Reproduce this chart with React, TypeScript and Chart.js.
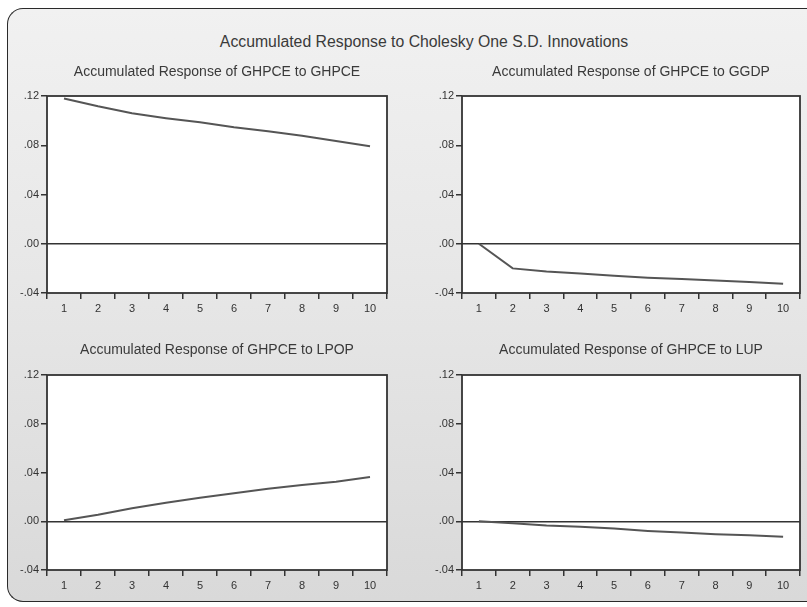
import React, { useEffect, useRef } from "react";
import { Chart, registerables } from "chart.js";

Chart.register(...registerables);

const mainTitle = "Accumulated Response to Cholesky One S.D. Innovations";
const categories = ["1", "2", "3", "4", "5", "6", "7", "8", "9", "10"];
const yTicks = [-0.04, 0.0, 0.04, 0.08, 0.12];

const resGHPCE = [0.118, 0.1116, 0.106, 0.102, 0.0986, 0.0946, 0.0913, 0.0878, 0.0835, 0.0792];
const resGGDP = [0.0, -0.02, -0.0225, -0.0241, -0.026, -0.0276, -0.0287, -0.0298, -0.031, -0.0325];
const resLPOP = [0.0008, 0.0053, 0.0107, 0.0152, 0.0192, 0.0229, 0.0267, 0.0298, 0.0325, 0.0363];
const resLUP = [0.0, -0.0016, -0.0035, -0.0046, -0.006, -0.0079, -0.0092, -0.0106, -0.0114, -0.0127];

const panelTitles = [
  "Accumulated Response of GHPCE to GHPCE",
  "Accumulated Response of GHPCE to GGDP",
  "Accumulated Response of GHPCE to LPOP",
  "Accumulated Response of GHPCE to LUP",
];

const FONT = "'Liberation Sans', Arial, sans-serif";
const INK = "#333333";

const framePlugin = {
  id: "plotFrame",
  beforeDraw(chart: any) {
    const { ctx, chartArea: a } = chart;
    ctx.save();
    ctx.fillStyle = "#ffffff";
    ctx.fillRect(a.left, a.top, a.right - a.left, a.bottom - a.top);
    ctx.restore();
  },
  afterDraw(chart: any) {
    const { ctx, chartArea: a } = chart;
    ctx.save();
    ctx.strokeStyle = "#333333";
    ctx.lineWidth = 1.8;
    ctx.strokeRect(a.left, a.top, a.right - a.left, a.bottom - a.top);
    ctx.restore();
  },
};

function fmt(v: number) {
  const s = Math.abs(v).toFixed(2).replace(/^0/, "");
  return v < -1e-9 ? "-" + s : s;
}

type PanelProps = {
  data: number[];
  title: string;
  left: number;
  top: number;
  width: number;
  height: number;
  titleBottomPad: number;
};

function Panel({ data, title, left, top, width, height, titleBottomPad }: PanelProps) {
  const ref = useRef<HTMLCanvasElement | null>(null);
  useEffect(() => {
    if (!ref.current) return;
    const chart = new Chart(ref.current, {
      type: "line",
      data: {
        labels: categories,
        datasets: [
          {
            data,
            borderColor: "#555555",
            borderWidth: 2,
            pointRadius: 0,
            tension: 0,
            fill: false,
          },
        ],
      },
      options: {
        responsive: false,
        animation: false,
        layout: { padding: { left: 0, right: 6, top: 0, bottom: 0 } },
        plugins: {
          legend: { display: false },
          tooltip: { enabled: false },
          title: {
            display: true,
            text: title,
            fullSize: false,
            color: "#3a3a3a",
            font: { family: FONT, size: 14, weight: "normal", lineHeight: 1.2 },
            padding: { top: 4, bottom: titleBottomPad },
          },
        },
        scales: {
          x: {
            type: "category",
            offset: true,
            grid: {
              offset: true,
              drawOnChartArea: false,
              drawTicks: true,
              tickLength: 6,
              color: INK,
              lineWidth: 1.5,
            },
            border: { display: false },
            ticks: {
              color: INK,
              font: { family: FONT, size: 11 },
              padding: 3,
              maxRotation: 0,
              autoSkip: false,
            },
            afterFit: (scale: any) => {
              scale.height = 26;
            },
          },
          y: {
            type: "linear",
            min: yTicks[0],
            max: yTicks[yTicks.length - 1],
            afterBuildTicks: (scale: any) => {
              scale.ticks = yTicks.map((v) => ({ value: v }));
            },
            grid: {
              drawOnChartArea: true,
              drawTicks: true,
              tickLength: 6,
              lineWidth: 1.5,
              tickColor: INK,
              color: (ctx: any) =>
                ctx.tick && Math.abs(ctx.tick.value) < 1e-9 ? INK : "rgba(0,0,0,0)",
            },
            border: { display: false },
            ticks: {
              color: INK,
              font: { family: FONT, size: 11 },
              padding: 2,
              callback: (v: any) => fmt(Number(v)),
            },
            afterFit: (scale: any) => {
              scale.width = 37;
            },
          },
        },
      },
      plugins: [framePlugin],
    } as any);
    return () => chart.destroy();
  }, [data, title, titleBottomPad]);

  return (
    <canvas
      ref={ref}
      width={width}
      height={height}
      style={{ position: "absolute", left, top, width, height }}
    />
  );
}

export default function App() {
  return (
    <div
      style={{
        position: "absolute",
        left: 0,
        top: 0,
        width: 807,
        height: 607,
        overflow: "hidden",
        background: "#ffffff",
      }}
    >
      <div
        style={{
          position: "absolute",
          left: 7,
          top: 8,
          width: 830,
          height: 594,
          borderTop: "1.5px solid #2a2a2a",
          borderLeft: "1.5px solid #2a2a2a",
          borderBottom: "1.5px solid #2a2a2a",
          borderRadius: "16px 0 0 16px",
          background: "linear-gradient(to bottom, #f1f1f1 0%, #e6e6e6 50%, #d9d9d9 100%)",
          boxSizing: "border-box",
        }}
      />
      <div
        style={{
          position: "absolute",
          left: 0,
          top: 32,
          width: 848,
          lineHeight: "20px",
          textAlign: "center",
          fontFamily: FONT,
          fontSize: 15.8,
          color: "#3a3a3a",
          whiteSpace: "nowrap",
        }}
      >
        {mainTitle}
      </div>
      <Panel data={resGHPCE} title={panelTitles[0]} left={10} top={60} width={383} height={259} titleBottomPad={15.2} />
      <Panel data={resGGDP} title={panelTitles[1]} left={425} top={60} width={381} height={259} titleBottomPad={15.2} />
      <Panel data={resLPOP} title={panelTitles[2]} left={10} top={338} width={383} height={258} titleBottomPad={16.2} />
      <Panel data={resLUP} title={panelTitles[3]} left={425} top={338} width={381} height={258} titleBottomPad={16.2} />
    </div>
  );
}
